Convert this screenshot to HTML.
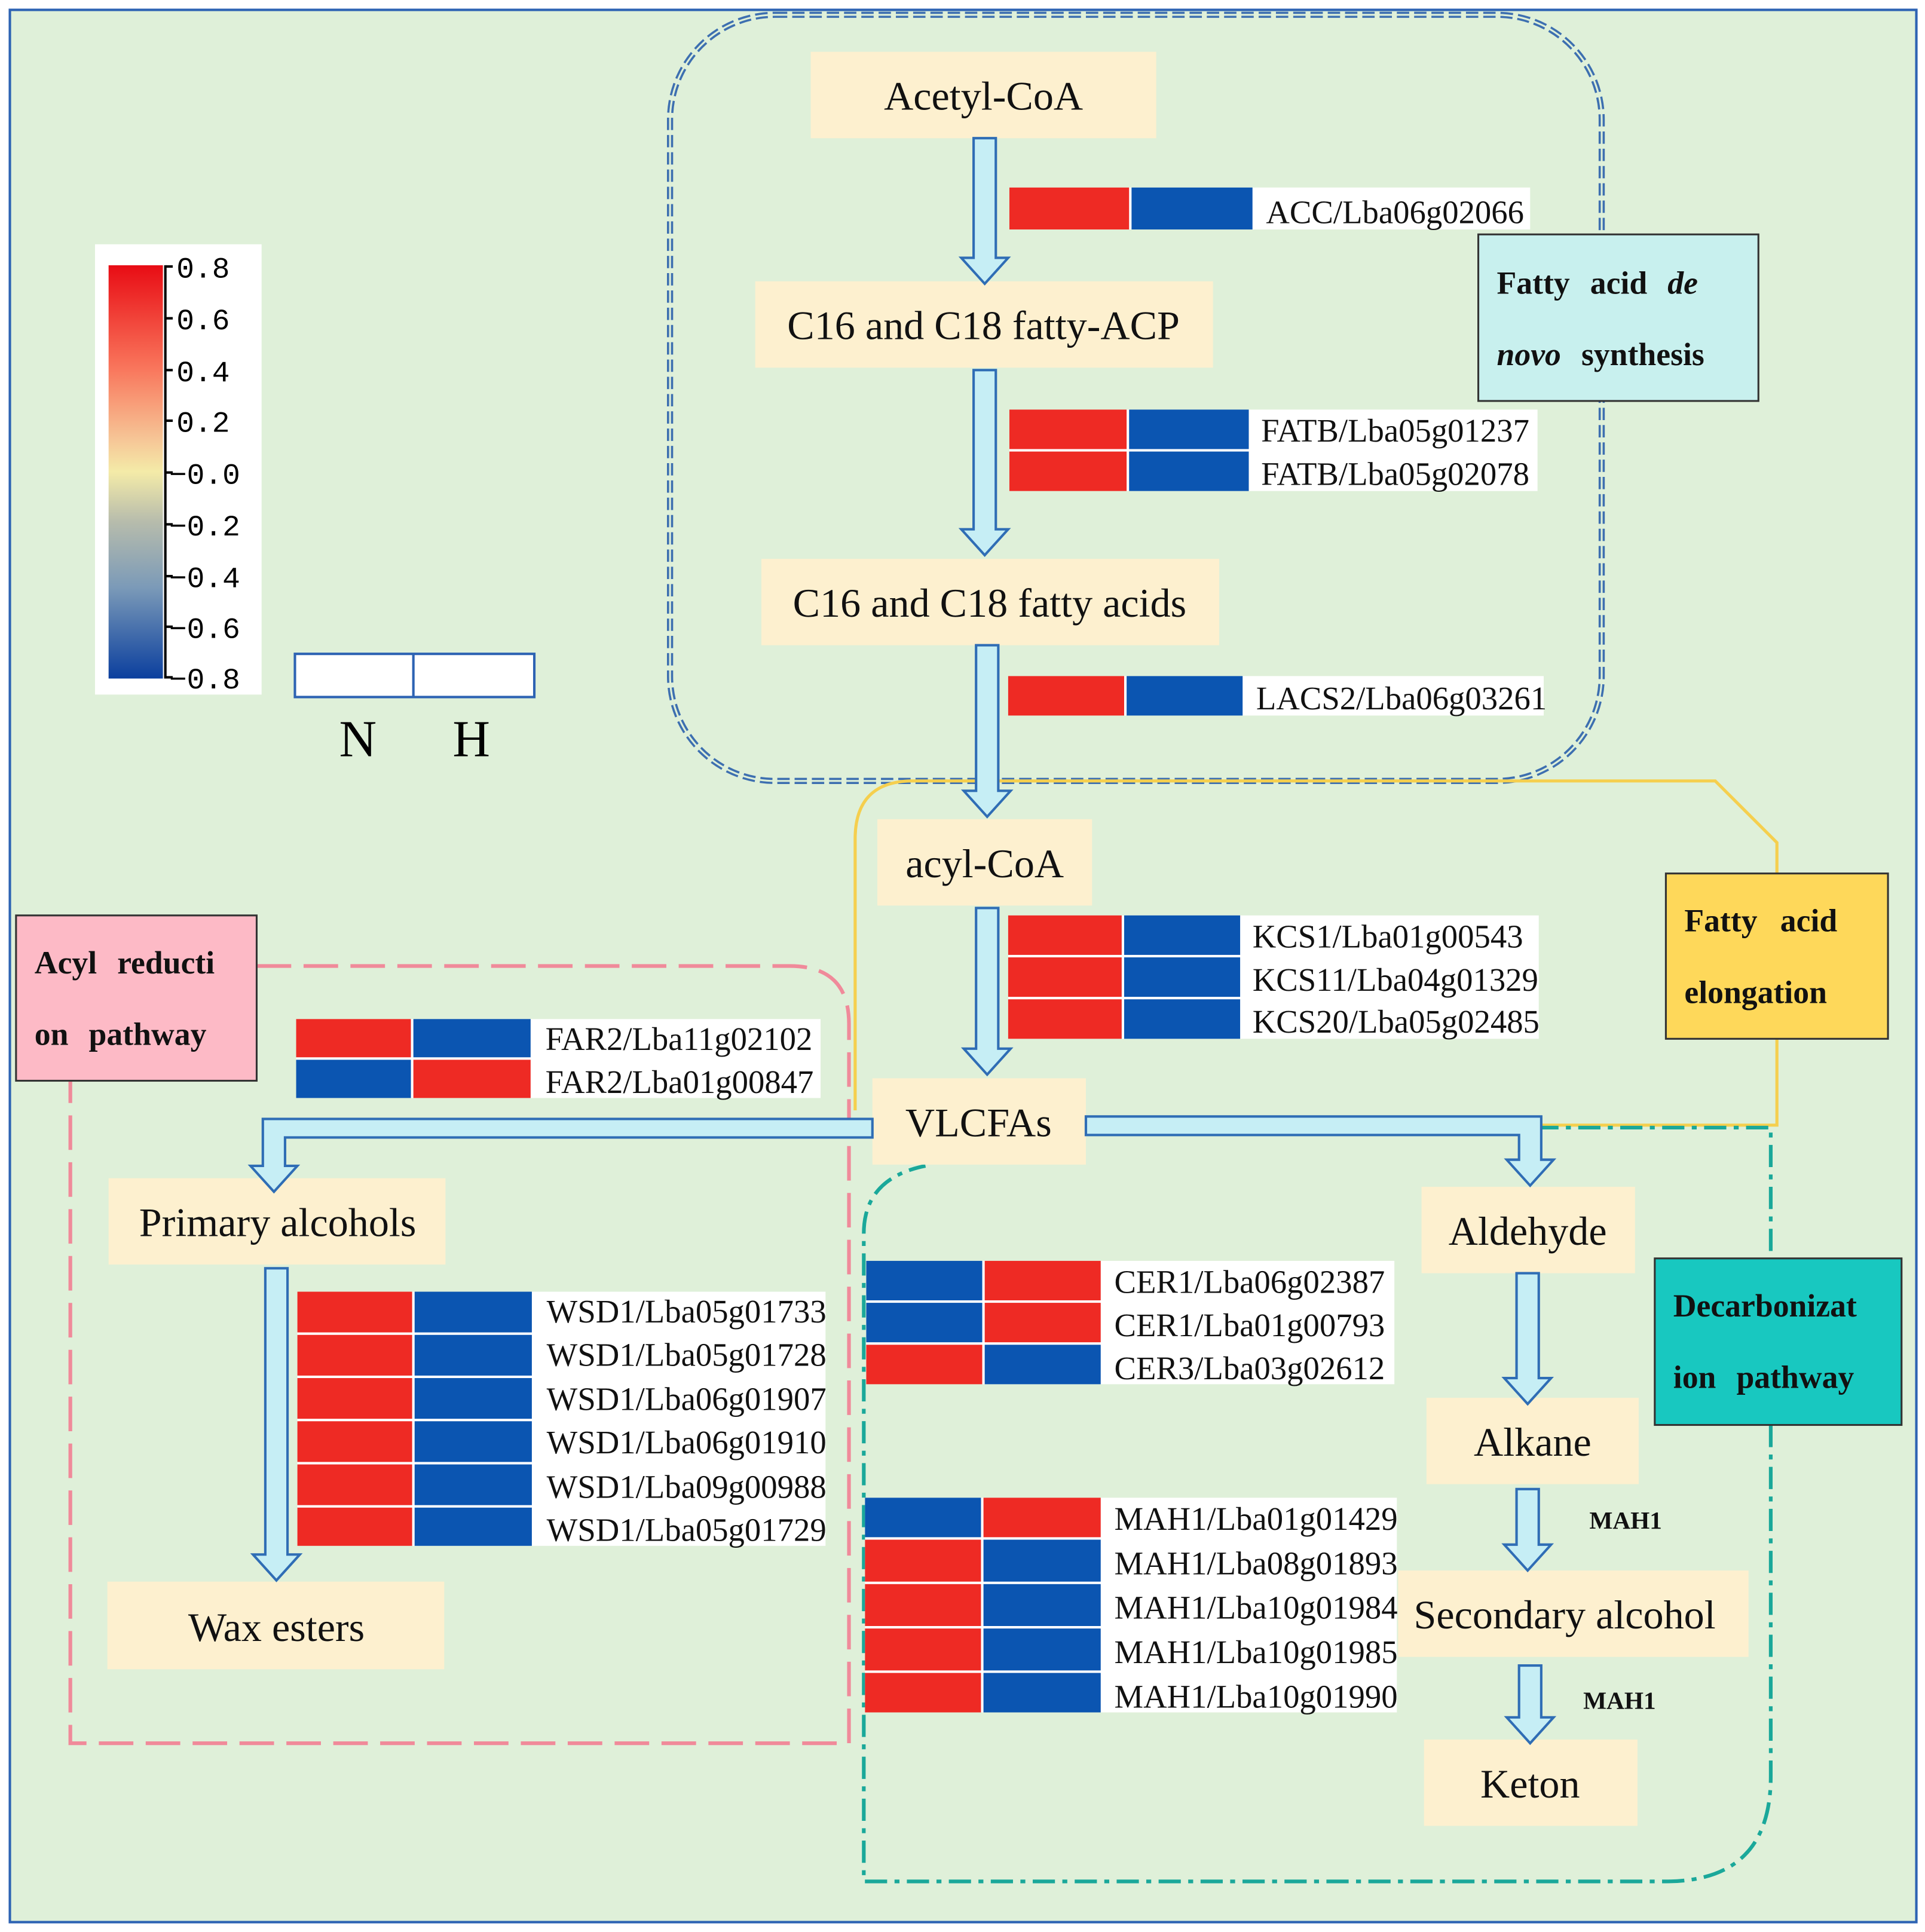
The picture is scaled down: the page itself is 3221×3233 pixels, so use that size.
<!DOCTYPE html>
<html><head><meta charset="utf-8"><style>html,body{margin:0;padding:0;background:#fff}svg{display:block}</style></head>
<body>
<svg xmlns="http://www.w3.org/2000/svg" width="3221" height="3233" viewBox="0 0 1560 1566" preserveAspectRatio="none" font-family="'Liberation Serif', serif">
<defs>
<linearGradient id="cb" x1="0" y1="0" x2="0" y2="1">
<stop offset="0" stop-color="#e80c14"/>
<stop offset="0.25" stop-color="#f9765c"/>
<stop offset="0.42" stop-color="#f6c596"/>
<stop offset="0.5" stop-color="#f4eba8"/>
<stop offset="0.62" stop-color="#b7bcac"/>
<stop offset="0.78" stop-color="#7b9ab8"/>
<stop offset="1" stop-color="#0b3f9e"/>
</linearGradient>
</defs>
<rect x="0" y="0" width="1560" height="1566" fill="#fff"/>
<rect x="8" y="8" width="1545" height="1550" fill="#dff0d9" stroke="#2d63b3" stroke-width="2"/>

<rect x="543" y="12" width="755" height="621" rx="85" fill="none" stroke="#3d6fb0" stroke-width="5" stroke-dasharray="10,4"/>
<rect x="543" y="12" width="755" height="621" rx="85" fill="none" stroke="#dff0d9" stroke-width="1.5"/>

<path d="M693,900 L693,680 Q693,633 740,633 L1390,633 L1440,683 L1440,708 M1440,842 L1440,912 L1245,912" fill="none" stroke="#f5cf4e" stroke-width="2.5"/>

<path d="M208,783 L640,783 Q688,783 688,830 L688,1413 L57,1413 L57,876" fill="none" stroke="#f08a9a" stroke-width="3" stroke-dasharray="28,10"/>

<path d="M1245,914 L1435,914 L1435,1020 M1435,1155 L1435,1440 Q1435,1525 1350,1525 L700,1525 L700,1000 Q700,955 750,945" fill="none" stroke="#1aa89a" stroke-width="3" stroke-dasharray="18,6,4,6"/>

<rect x="77" y="198" width="135" height="365" fill="#fff"/>
<rect x="88" y="215" width="44" height="335" fill="url(#cb)"/>
<line x1="134" y1="215" x2="134" y2="550" stroke="#000" stroke-width="2"/>
<g font-size="24" fill="#000" font-family="'Liberation Mono', monospace">
<g stroke="#000" stroke-width="2">
<line x1="134" y1="216" x2="140" y2="216"/><line x1="134" y1="258" x2="140" y2="258"/><line x1="134" y1="300" x2="140" y2="300"/><line x1="134" y1="341" x2="140" y2="341"/><line x1="134" y1="383" x2="140" y2="383"/><line x1="134" y1="425" x2="140" y2="425"/><line x1="134" y1="467" x2="140" y2="467"/><line x1="134" y1="508" x2="140" y2="508"/><line x1="134" y1="549" x2="140" y2="549"/>
</g>
<text x="143" y="225">0.8</text><text x="143" y="267">0.6</text><text x="143" y="309">0.4</text><text x="143" y="350">0.2</text>
<text x="137" y="392">−0.0</text><text x="137" y="434">−0.2</text><text x="137" y="476">−0.4</text><text x="137" y="517">−0.6</text><text x="137" y="558">−0.8</text>
</g>
<rect x="239" y="530" width="194" height="35" fill="#fff" stroke="#2d63b3" stroke-width="2"/>
<line x1="335" y1="530" x2="335" y2="565" stroke="#2d63b3" stroke-width="2"/>
<text x="290" y="613" font-size="42" text-anchor="middle">N</text>
<text x="382" y="613" font-size="42" text-anchor="middle">H</text>

<g fill="#fdf0cf">
<rect x="657" y="42" width="280" height="70"/>
<rect x="612" y="228" width="371" height="70"/>
<rect x="617" y="453" width="371" height="70"/>
<rect x="711" y="664" width="174" height="70"/>
<rect x="707" y="874" width="173" height="70"/>
<rect x="88" y="955" width="273" height="70"/>
<rect x="87" y="1282" width="273" height="71"/>
<rect x="1152" y="962" width="173" height="70"/>
<rect x="1156" y="1133" width="172" height="70"/>
<rect x="1133" y="1273" width="284" height="70"/>
<rect x="1154" y="1410" width="173" height="70"/>
</g>
<g font-size="33" text-anchor="middle" fill="#111">
<text x="797" y="89">Acetyl-CoA</text>
<text x="797" y="275">C16 and C18 fatty-ACP</text>
<text x="802" y="500">C16 and C18 fatty acids</text>
<text x="798" y="711">acyl-CoA</text>
<text x="793" y="921">VLCFAs</text>
<text x="225" y="1002">Primary alcohols</text>
<text x="224" y="1330">Wax esters</text>
<text x="1238" y="1009">Aldehyde</text>
<text x="1242" y="1180">Alkane</text>
<text x="1268" y="1320">Secondary alcohol</text>
<text x="1240" y="1457">Keton</text>
</g>

<rect x="1198" y="190" width="227" height="135" fill="#c8f0ee" stroke="#333" stroke-width="1.5"/>
<g font-size="26" font-weight="bold" fill="#111" word-spacing="10">
<text x="1213" y="238">Fatty acid <tspan font-style="italic">de</tspan></text>
<text x="1213" y="296"><tspan font-style="italic">novo</tspan> synthesis</text>
</g>
<rect x="1350" y="708" width="180" height="134" fill="#fed85a" stroke="#333" stroke-width="1.5"/>
<g font-size="26" font-weight="bold" fill="#111" word-spacing="12">
<text x="1365" y="755">Fatty acid</text>
<text x="1365" y="813">elongation</text>
</g>
<rect x="13" y="742" width="195" height="134" fill="#fdbac6" stroke="#333" stroke-width="1.5"/>
<g font-size="26" font-weight="bold" fill="#111" word-spacing="10">
<text x="28" y="789">Acyl reducti</text>
<text x="28" y="847">on pathway</text>
</g>
<rect x="1341" y="1020" width="200" height="135" fill="#18c8c0" stroke="#333" stroke-width="1.5"/>
<g font-size="26" font-weight="bold" fill="#111" word-spacing="10">
<text x="1356" y="1067">Decarbonizat</text>
<text x="1356" y="1125">ion pathway</text>
</g>

<g fill="#c6eef5" stroke="#2f6db5" stroke-width="2">
<path d="M789,112 L807,112 L807,209 L817,209 L798,230 L779,209 L789,209 Z"/>
<path d="M789,300 L807,300 L807,429 L817,429 L798,450 L779,429 L789,429 Z"/>
<path d="M791,523 L809,523 L809,641 L819,641 L800,662 L781,641 L791,641 Z"/>
<path d="M791,736 L809,736 L809,850 L819,850 L800,871 L781,850 L791,850 Z"/>
<path d="M707,907 L707,922 L231,922 L231,945 L241,945 L222,966 L203,945 L213,945 L213,907 Z"/>
<path d="M880,905 L880,920 L1231,920 L1231,940 L1221,940 L1240,961 L1259,940 L1249,940 L1249,905 Z"/>
<path d="M215,1028 L233,1028 L233,1260 L243,1260 L224,1281 L205,1260 L215,1260 Z"/>
<path d="M1229,1032 L1247,1032 L1247,1117 L1257,1117 L1238,1138 L1219,1117 L1229,1117 Z"/>
<path d="M1229,1207 L1247,1207 L1247,1252 L1257,1252 L1238,1273 L1219,1252 L1229,1252 Z"/>
<path d="M1231,1350 L1249,1350 L1249,1392 L1259,1392 L1240,1413 L1221,1392 L1231,1392 Z"/>
</g>
<g font-size="20" font-weight="bold" fill="#111">
<text x="1288" y="1239">MAH1</text>
<text x="1283" y="1385">MAH1</text>
</g>

<g font-size="26.5" fill="#111">
<rect x="818" y="152" width="422" height="34" fill="#fff"/>
<rect x="818" y="152" width="97" height="34" fill="#ee2a24"/><rect x="917" y="152" width="98" height="34" fill="#0b55b1"/>
<text x="1026" y="181">ACC/Lba06g02066</text>

<rect x="818" y="332" width="428" height="66" fill="#fff"/>
<rect x="818" y="332" width="95" height="32" fill="#ee2a24"/><rect x="915" y="332" width="97" height="32" fill="#0b55b1"/>
<rect x="818" y="366" width="95" height="32" fill="#ee2a24"/><rect x="915" y="366" width="97" height="32" fill="#0b55b1"/>
<text x="1022" y="358">FATB/Lba05g01237</text><text x="1022" y="393">FATB/Lba05g02078</text>

<rect x="817" y="548" width="434" height="32" fill="#fff"/>
<rect x="817" y="548" width="94" height="32" fill="#ee2a24"/><rect x="913" y="548" width="94" height="32" fill="#0b55b1"/>
<text x="1018" y="575">LACS2/Lba06g03261</text>

<rect x="817" y="742" width="430" height="100" fill="#fff"/>
<rect x="817" y="742" width="92" height="32" fill="#ee2a24"/><rect x="911" y="742" width="94" height="32" fill="#0b55b1"/>
<rect x="817" y="776" width="92" height="32" fill="#ee2a24"/><rect x="911" y="776" width="94" height="32" fill="#0b55b1"/>
<rect x="817" y="810" width="92" height="32" fill="#ee2a24"/><rect x="911" y="810" width="94" height="32" fill="#0b55b1"/>
<text x="1015" y="768">KCS1/Lba01g00543</text><text x="1015" y="803">KCS11/Lba04g01329</text><text x="1015" y="837">KCS20/Lba05g02485</text>

<rect x="240" y="826" width="425" height="64" fill="#fff"/>
<rect x="240" y="826" width="93" height="31" fill="#ee2a24"/><rect x="335" y="826" width="95" height="31" fill="#0b55b1"/>
<rect x="240" y="859" width="93" height="31" fill="#0b55b1"/><rect x="335" y="859" width="95" height="31" fill="#ee2a24"/>
<text x="442" y="851">FAR2/Lba11g02102</text><text x="442" y="886">FAR2/Lba01g00847</text>

<rect x="241" y="1047" width="428" height="206" fill="#fff"/>
<g fill="#ee2a24"><rect x="241" y="1047" width="93" height="33"/><rect x="241" y="1082" width="93" height="33"/><rect x="241" y="1117" width="93" height="33"/><rect x="241" y="1152" width="93" height="33"/><rect x="241" y="1187" width="93" height="33"/><rect x="241" y="1222" width="93" height="31"/></g>
<g fill="#0b55b1"><rect x="336" y="1047" width="95" height="33"/><rect x="336" y="1082" width="95" height="33"/><rect x="336" y="1117" width="95" height="33"/><rect x="336" y="1152" width="95" height="33"/><rect x="336" y="1187" width="95" height="33"/><rect x="336" y="1222" width="95" height="31"/></g>
<text x="443" y="1072">WSD1/Lba05g01733</text><text x="443" y="1107">WSD1/Lba05g01728</text><text x="443" y="1143">WSD1/Lba06g01907</text><text x="443" y="1178">WSD1/Lba06g01910</text><text x="443" y="1214">WSD1/Lba09g00988</text><text x="443" y="1249">WSD1/Lba05g01729</text>

<rect x="702" y="1022" width="428" height="100" fill="#fff"/>
<rect x="702" y="1022" width="94" height="32" fill="#0b55b1"/><rect x="798" y="1022" width="94" height="32" fill="#ee2a24"/>
<rect x="702" y="1056" width="94" height="32" fill="#0b55b1"/><rect x="798" y="1056" width="94" height="32" fill="#ee2a24"/>
<rect x="702" y="1090" width="94" height="32" fill="#ee2a24"/><rect x="798" y="1090" width="94" height="32" fill="#0b55b1"/>
<text x="903" y="1048">CER1/Lba06g02387</text><text x="903" y="1083">CER1/Lba01g00793</text><text x="903" y="1118">CER3/Lba03g02612</text>

<rect x="701" y="1214" width="431" height="174" fill="#fff"/>
<rect x="701" y="1214" width="94" height="32" fill="#0b55b1"/><rect x="797" y="1214" width="95" height="32" fill="#ee2a24"/>
<g fill="#ee2a24"><rect x="701" y="1248" width="94" height="34"/><rect x="701" y="1284" width="94" height="34"/><rect x="701" y="1320" width="94" height="34"/><rect x="701" y="1356" width="94" height="32"/></g>
<g fill="#0b55b1"><rect x="797" y="1248" width="95" height="34"/><rect x="797" y="1284" width="95" height="34"/><rect x="797" y="1320" width="95" height="34"/><rect x="797" y="1356" width="95" height="32"/></g>
<text x="903" y="1240">MAH1/Lba01g01429</text><text x="903" y="1276">MAH1/Lba08g01893</text><text x="903" y="1312">MAH1/Lba10g01984</text><text x="903" y="1348">MAH1/Lba10g01985</text><text x="903" y="1384">MAH1/Lba10g01990</text>
</g>
</svg>
</body></html>
